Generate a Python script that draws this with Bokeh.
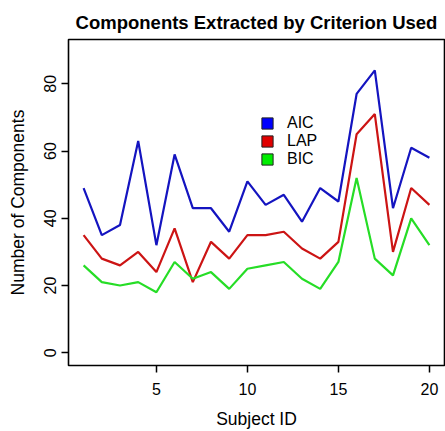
from bokeh.plotting import figure
from bokeh.models import FixedTicker, Legend, LegendItem, Range1d
from bokeh.embed import file_html
from bokeh.resources import INLINE

subject = list(range(1, 21))
aic = [49, 35, 38, 63, 32, 59, 43, 43, 36, 51, 44, 47, 39, 49, 45, 77, 84, 43, 61, 58]
lap = [35, 28, 26, 30, 24, 37, 21, 33, 28, 35, 35, 36, 31, 28, 33, 65, 71, 30, 49, 44]
bic = [26, 21, 20, 21, 18, 27, 22, 24, 19, 25, 26, 27, 22, 19, 27, 52, 28, 23, 40, 32]
x_ticks = [5, 10, 15, 20]
y_ticks = [0, 20, 40, 60, 80]

FONT = "Liberation Sans"

p = figure(width=445, height=431, output_backend="svg", toolbar_location=None,
           x_range=Range1d(0.17, 20.83), y_range=Range1d(-3.8, 93.2),
           min_border_left=68, min_border_right=1, min_border_top=39, min_border_bottom=63,
           title="Components Extracted by Criterion Used")

p.title.align = "center"
p.title.text_font = FONT
p.title.text_font_size = "18.5px"
p.title.text_font_style = "bold"
p.title.text_color = "black"
p.title.standoff = 10
p.title.vertical_align = "top"

p.outline_line_color = "black"
p.outline_line_width = 1.6
p.outline_line_alpha = 1
p.xgrid.grid_line_color = None
p.ygrid.grid_line_color = None
p.background_fill_color = "white"
p.border_fill_color = "white"

for ax in (p.xaxis[0], p.yaxis[0]):
    ax.axis_line_color = None
    ax.major_tick_out = 7
    ax.major_tick_in = 0
    ax.major_tick_line_width = 1.5
    ax.major_tick_line_color = "black"
    ax.minor_tick_line_color = None
    ax.major_label_text_font = FONT
    ax.major_label_text_font_size = "16px"
    ax.major_label_text_color = "black"
    ax.axis_label_text_font = FONT
    ax.axis_label_text_font_size = "17.5px"
    ax.axis_label_text_font_style = "normal"
    ax.axis_label_text_color = "black"

p.xaxis.ticker = FixedTicker(ticks=x_ticks)
p.yaxis.ticker = FixedTicker(ticks=y_ticks)
p.yaxis.major_label_orientation = "vertical"
p.xaxis.axis_label = "Subject ID"
p.yaxis.axis_label = "Number of Components"
p.xaxis.major_label_standoff = 10
p.yaxis.major_label_standoff = 5
p.xaxis.axis_label_standoff = 11
p.yaxis.axis_label_standoff = 14

series = [("AIC", aic, "#1414c0", "#0000ff"),
          ("LAP", lap, "#cc1414", "#e00000"),
          ("BIC", bic, "#26dd26", "#00ee00")]

items = []
for name, vals, lc, fc in series:
    # zero-size quads at the data points: only used to give the legend its filled square key
    sq = p.quad(left=subject, right=subject, top=vals, bottom=vals,
                fill_color=fc, line_color="#202020", line_width=1)
    items.append(LegendItem(label=name, renderers=[sq]))
for name, vals, lc, fc in series:
    p.line(subject, vals, line_color=lc, line_width=2.2)

legend = Legend(items=items, location=(192, 197), orientation="vertical",
                glyph_width=14, glyph_height=14, label_height=14, spacing=0,
                label_standoff=13, padding=0, margin=0,
                border_line_color=None, background_fill_alpha=0,
                label_text_font=FONT, label_text_font_size="16px", label_text_color="black")
p.add_layout(legend)

open("out.html", "w").write(file_html(p, INLINE))
